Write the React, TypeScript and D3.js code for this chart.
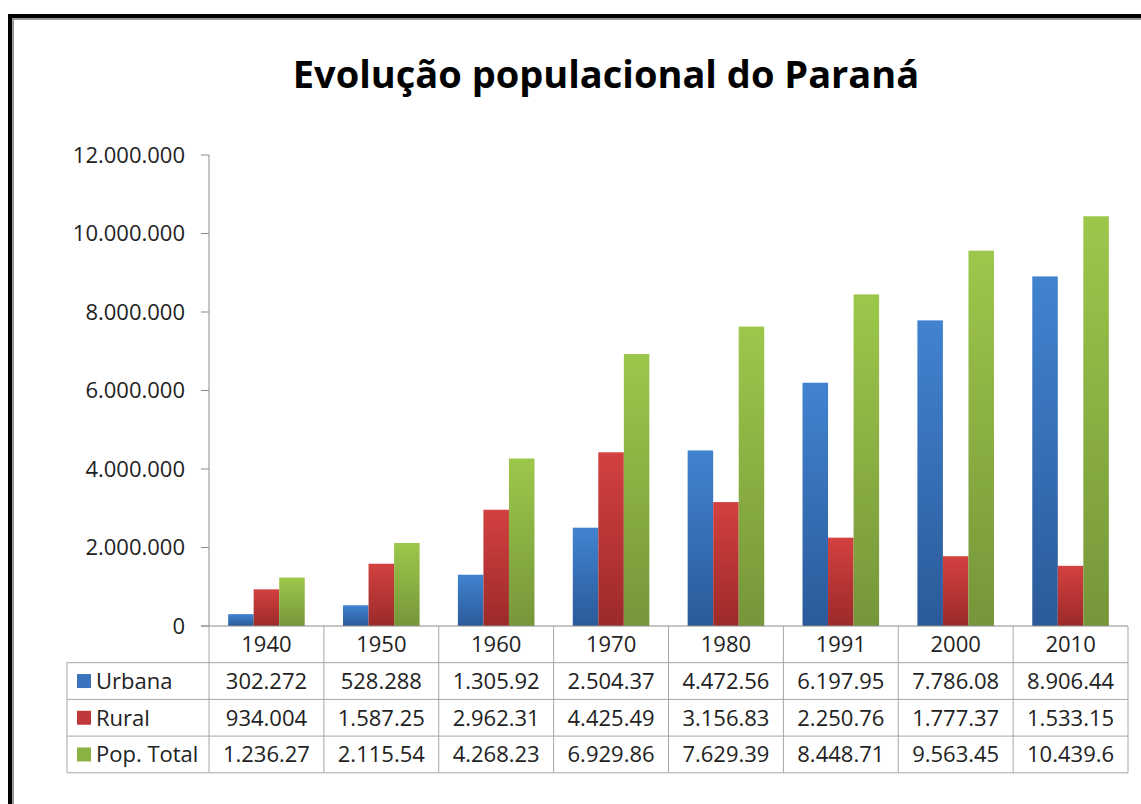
import React, { useEffect, useRef } from 'react';
import * as d3 from 'd3';

const years = ['1940', '1950', '1960', '1970', '1980', '1991', '2000', '2010'];
const seriesNames = ['Urbana', 'Rural', 'Pop. Total'];
const urbana = [302272, 528288, 1305920, 2504370, 4472560, 6197950, 7786080, 8906440];
const rural = [934004, 1587250, 2962310, 4425490, 3156830, 2250760, 1777370, 1533150];
const total = [1236270, 2115540, 4268230, 6929860, 7629390, 8448710, 9563450, 10439600];
const yTicks = [0, 2000000, 4000000, 6000000, 8000000, 10000000, 12000000];

const colors = [
  { top: '#4183d0', bottom: '#2b5a99', key: '#3a72bb' },
  { top: '#d34140', bottom: '#9b2a29', key: '#c0393a' },
  { top: '#9dc74b', bottom: '#76963a', key: '#8cb143' },
];

const W = 1141;
const H = 804;

const App: React.FC = () => {
  const svgRef = useRef<SVGSVGElement>(null);

  useEffect(() => {
    if (!svgRef.current) return;
    const svg = d3.select(svgRef.current);
    svg.selectAll('*').remove();

    const font = 'Open Sans, sans-serif';
    const axisColor = '#8c8c8c';
    const plot = { left: 209, right: 1128, top: 155, bottom: 626 };
    const values = [urbana, rural, total];

    // brazilian style numbers, truncated like the excel data table
    const loc = d3.formatLocale({ decimal: ',', thousands: '.', grouping: [3], currency: ['R$', ''] });
    const fmt = loc.format(',d');
    const cell = (v: number) => fmt(v).slice(0, 8);

    // frame
    svg.append('rect').attr('width', W).attr('height', H).attr('fill', '#fff');
    svg.append('line').attr('x1', 8).attr('x2', W).attr('y1', 16).attr('y2', 16)
      .attr('stroke', '#000').attr('stroke-width', 4);
    svg.append('line').attr('x1', 12).attr('x2', W).attr('y1', 19).attr('y2', 19)
      .attr('stroke', '#999').attr('stroke-width', 2);
    svg.append('line').attr('x1', 10).attr('x2', 10).attr('y1', 14).attr('y2', H)
      .attr('stroke', '#000').attr('stroke-width', 4);
    svg.append('line').attr('x1', 13).attr('x2', 13).attr('y1', 18).attr('y2', H)
      .attr('stroke', '#999').attr('stroke-width', 2);

    // gradients
    const defs = svg.append('defs');
    colors.forEach((c, i) => {
      const g = defs.append('linearGradient').attr('id', `grad${i}`)
        .attr('x1', 0).attr('x2', 0).attr('y1', 0).attr('y2', 1);
      g.append('stop').attr('offset', '0%').attr('stop-color', c.top);
      g.append('stop').attr('offset', '100%').attr('stop-color', c.bottom);
    });

    // title
    svg.append('text')
      .attr('x', 606)
      .attr('y', 88)
      .attr('text-anchor', 'middle')
      .style('font-family', font)
      .style('font-size', '38px')
      .style('font-weight', 'bold')
      .attr('fill', '#000')
      .text('Evolução populacional do Paraná');

    const x0 = d3.scaleBand().domain(years).range([plot.left, plot.right]).paddingInner(0).paddingOuter(0);
    const step = x0.bandwidth();
    const barW = step / 4.5;
    const y = d3.scaleLinear().domain([0, 12000000]).range([plot.bottom, plot.top]);

    const textSize = '22px';

    // y axis
    const g = svg.append('g');
    g.append('line').attr('x1', plot.left).attr('x2', plot.left)
      .attr('y1', plot.top).attr('y2', plot.bottom).attr('stroke', axisColor);
    yTicks.forEach(t => {
      g.append('line').attr('x1', plot.left - 8).attr('x2', plot.left)
        .attr('y1', y(t)).attr('y2', y(t)).attr('stroke', axisColor);
      g.append('text')
        .attr('x', 185)
        .attr('y', y(t))
        .attr('dy', '0.35em')
        .attr('text-anchor', 'end')
        .style('font-family', font)
        .style('font-size', textSize)
        .attr('fill', '#222')
        .text(fmt(t));
    });

    // bars
    values.forEach((vals, si) => {
      g.selectAll(`.bar-${si}`)
        .data(vals)
        .enter().append('rect')
        .attr('class', `bar-${si}`)
        .attr('x', (_, i) => (x0(years[i]) as number) + barW * 0.75 + si * barW)
        .attr('y', d => y(d))
        .attr('width', barW)
        .attr('height', d => plot.bottom - y(d))
        .attr('fill', `url(#grad${si})`);
    });

    // data table
    const rowH = 36.7;
    const tableLeft = 67;
    const tableBottom = plot.bottom + rowH * 4;
    const lineColor = '#a6a6a6';
    g.append('line').attr('x1', plot.left - 8).attr('x2', plot.right)
      .attr('y1', plot.bottom).attr('y2', plot.bottom).attr('stroke', axisColor);
    for (let r = 1; r <= 4; r++) {
      g.append('line').attr('x1', tableLeft).attr('x2', plot.right)
        .attr('y1', plot.bottom + rowH * r).attr('y2', plot.bottom + rowH * r)
        .attr('stroke', lineColor);
    }
    g.append('line').attr('x1', tableLeft).attr('x2', tableLeft)
      .attr('y1', plot.bottom + rowH).attr('y2', tableBottom).attr('stroke', lineColor);
    years.forEach((yr, i) => {
      const xl = x0(yr) as number;
      g.append('line').attr('x1', xl + step).attr('x2', xl + step)
        .attr('y1', plot.bottom).attr('y2', tableBottom).attr('stroke', lineColor);
      if (i === 0) {
        g.append('line').attr('x1', xl).attr('x2', xl)
          .attr('y1', plot.bottom).attr('y2', tableBottom).attr('stroke', lineColor);
      }
      g.append('text')
        .attr('x', xl + step / 2)
        .attr('y', plot.bottom + rowH / 2)
        .attr('dy', '0.36em')
        .attr('text-anchor', 'middle')
        .style('font-family', font)
        .style('font-size', textSize)
        .attr('fill', '#222')
        .text(yr);
    });

    seriesNames.forEach((name, si) => {
      const cy = plot.bottom + rowH * (si + 1) + rowH / 2;
      g.append('rect').attr('x', 77).attr('y', cy - 7).attr('width', 14).attr('height', 14)
        .attr('fill', colors[si].key);
      g.append('text')
        .attr('x', 96)
        .attr('y', cy)
        .attr('dy', '0.36em')
        .style('font-family', font)
        .style('font-size', textSize)
        .attr('fill', '#222')
        .text(name);
      values[si].forEach((v, i) => {
        g.append('text')
          .attr('x', (x0(years[i]) as number) + step / 2)
          .attr('y', cy)
          .attr('dy', '0.36em')
          .attr('text-anchor', 'middle')
          .style('font-family', font)
          .style('font-size', textSize)
          .attr('fill', '#222')
          .text(cell(v));
      });
    });
  }, []);

  return (
    <svg
      ref={svgRef}
      width={W}
      height={H}
      style={{ position: 'absolute', left: 0, top: 0 }}
    />
  );
};

export default App;
